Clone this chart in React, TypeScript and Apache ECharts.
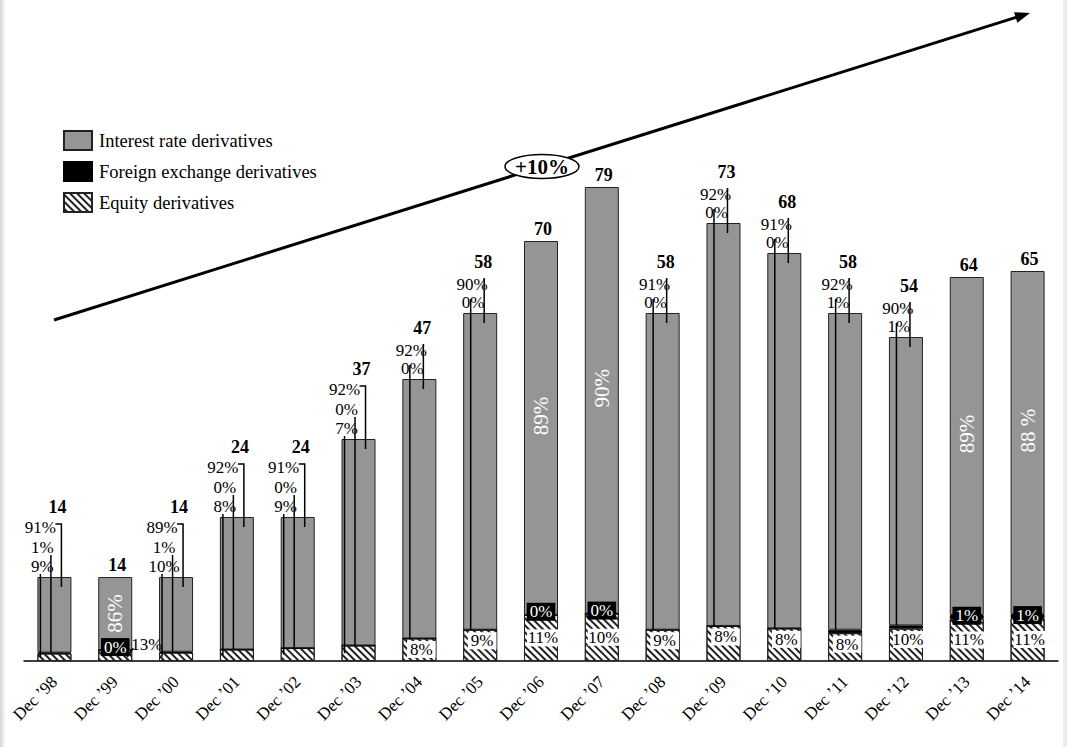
import React, { useEffect, useRef } from "react";
import * as echarts from "echarts";

// ---------- data ----------
const categories = [
  "Dec ’98", "Dec ’99", "Dec ’00", "Dec ’01", "Dec ’02", "Dec ’03", "Dec ’04", "Dec ’05", "Dec ’06",
  "Dec ’07", "Dec ’08", "Dec ’09", "Dec ’10", "Dec ’11", "Dec ’12", "Dec ’13", "Dec ’14",
];
const totals = [14, 14, 14, 24, 24, 37, 47, 58, 70, 79, 58, 73, 68, 58, 54, 64, 65];
const irPct = [91, 86, 89, 92, 91, 92, 92, 90, 89, 90, 91, 92, 91, 92, 90, 89, 88];
const fxPct = [1, 0, 1, 0, 0, 0, 0, 0, 0, 0, 0, 0, 0, 1, 1, 1, 1];
const eqPct = [9, 13, 10, 8, 9, 7, 8, 9, 11, 10, 9, 8, 8, 8, 10, 11, 11];
const irLabelOverride: Record<number, string> = { 16: "88 %" };

// how each column's labels are laid out (presentation only)
const labelModes = [
  "lead3", "inside", "lead3", "lead3", "lead3", "lead3", "lead2", "lead2", "inside",
  "inside", "lead2", "lead2", "lead2", "lead2", "lead2", "inside", "inside",
];

const eqVal = totals.map((t, i) => (t * eqPct[i]) / 100);
const fxVal = totals.map((t, i) => (t * fxPct[i]) / 100);
const irVal = totals.map((t, i) => t - eqVal[i] - fxVal[i]);

const SERIF = "Liberation Serif";
const BAR_W = 34;

function textW(s: string, size: number) {
  let w = 0;
  for (const ch of s) w += ch === "%" ? size * 0.83 : ch === " " ? size * 0.25 : size * 0.5;
  return w;
}

function renderItem(params: any, api: any) {
  const i = params.dataIndex;
  const [cx, yTop] = api.coord([i, totals[i]]);
  const [, yBase] = api.coord([i, 0]);
  const [, yEq] = api.coord([i, eqVal[i]]);
  const [, yFx] = api.coord([i, eqVal[i] + fxVal[i]]);
  const mode = labelModes[i];
  const children: any[] = [];
  const txt = (x: number, y: number, text: string, o: any = {}) => ({
    type: "text",
    z2: 20,
    style: {
      x,
      y,
      text,
      fill: o.fill || "#000",
      fontSize: o.size || 17,
      fontFamily: SERIF,
      fontWeight: o.bold ? "bold" : "normal",
      align: o.align || "center",
      verticalAlign: "middle",
    },
  });
  const poly = (pts: number[][]) => ({
    type: "polyline",
    z2: 15,
    shape: { points: pts },
    style: { stroke: "#000", lineWidth: 1.5, fill: null },
  });
  const box = (x: number, y: number, w: number, h: number, fill: string) => ({
    type: "rect",
    z2: 18,
    shape: { x: x - w / 2, y: y - h / 2, width: w, height: h },
    style: { fill },
  });
  const irText = irLabelOverride[i] || irPct[i] + "%";
  const fxText = fxPct[i] + "%";
  const eqText = eqPct[i] + "%";
  const eqMid = (yEq + yBase) / 2;

  if (mode === "lead3") {
    const yEqL = yTop - 11, yFxL = yTop - 30, yIrL = yTop - 50, yTot = yTop - 70;
    children.push(poly([[cx + 1, yIrL - 3], [cx + 7, yIrL - 3], [cx + 7, yTop + 10]]));
    children.push(poly([[cx - 3.5, yFxL + 8], [cx - 3.5, yFx]]));
    children.push(poly([[cx - 14, yEqL + 8], [cx - 14, eqMid]]));
    children.push(txt(cx - 14, yIrL, irText));
    children.push(txt(cx - 12, yFxL, fxText));
    children.push(txt(cx - 12, yEqL, eqText));
    children.push(txt(cx + 3, yTot, String(totals[i]), { bold: true, size: 18 }));
  } else if (mode === "lead2") {
    const yFxL = yTop - 11, yIrL = yTop - 29, yTot = yTop - 51;
    children.push(poly([[cx + 4, yIrL - 6], [cx + 4, yTop + 10]]));
    children.push(poly([[cx - 9.5, yFxL - 3], [cx - 9.5, yFx]]));
    children.push(txt(cx - 8, yIrL, irText));
    children.push(txt(cx - 7, yFxL, fxText));
    children.push(txt(cx + 3, yTot, String(totals[i]), { bold: true, size: 18 }));
    const ey = Math.min(eqMid, yEq + 11);
    children.push(box(cx + 2, ey, Math.min(textW(eqText, 17) + 6, BAR_W - 4), 17, "#fff"));
    children.push(txt(cx + 2, ey, eqText));
  } else {
    const yTot = yTop - 12;
    children.push(txt(cx + 2, yTot, String(totals[i]), { bold: true, size: 18 }));
    const irMid = (yTop + yFx) / 2 - (yFx - yTop > 200 ? 12 : 0);
    children.push({
      type: "text",
      z2: 20,
      x: cx,
      y: irMid,
      rotation: Math.PI / 2,
      style: {
        x: 0,
        y: 0,
        text: irText,
        fill: "#fff",
        fontSize: 21,
        fontFamily: SERIF,
        align: "center",
        verticalAlign: "middle",
      },
    });
    const fxBoxY = yEq - 3;
    children.push(box(cx, fxBoxY, textW(fxText, 17) + 6, 18, "#000"));
    children.push(txt(cx, fxBoxY, fxText, { fill: "#fff" }));
    if (yBase - yEq < 20) {
      // small bar: equity label outside with a short leader
      children.push(poly([[cx + 12, yBase - 4], [cx + 18, yEq - 2]]));
      children.push(txt(cx + 16, yEq - 6, eqText, { align: "left" }));
    } else {
      children.push(box(cx + 2, eqMid, Math.min(textW(eqText, 17) + 6, BAR_W - 2), 17, "#fff"));
      children.push(txt(cx + 2, eqMid, eqText));
    }
  }
  return { type: "group", children };
}

// arrow annotation
const A0 = [54, 320];
const A1 = [1030, 13];
function arrowGraphics() {
  const dx = A1[0] - A0[0], dy = A1[1] - A0[1];
  const L = Math.hypot(dx, dy);
  const ux = dx / L, uy = dy / L;
  const nx = -uy, ny = ux;
  const hl = 15, hw = 5.5;
  const bx = A1[0] - ux * hl, by = A1[1] - uy * hl;
  const t = (542 - A0[0]) / dx;
  const ex = 542, ey = A0[1] + dy * t;
  return [
    {
      type: "line",
      shape: { x1: A0[0], y1: A0[1], x2: bx + ux * 2, y2: by + uy * 2 },
      style: { stroke: "#000", lineWidth: 3 },
      z: 50,
    },
    {
      type: "polygon",
      shape: { points: [[A1[0], A1[1]], [bx + nx * hw, by + ny * hw], [bx - nx * hw, by - ny * hw]] },
      style: { fill: "#000" },
      z: 50,
    },
    {
      type: "ellipse",
      shape: { cx: ex, cy: ey, rx: 37, ry: 12 },
      style: { fill: "#fff", stroke: "#000", lineWidth: 1.5 },
      z: 51,
    },
    {
      type: "text",
      x: ex,
      y: ey,
      style: {
        text: "+10%",
        fill: "#000",
        fontSize: 21,
        fontWeight: "bold",
        fontFamily: SERIF,
        align: "center",
        verticalAlign: "middle",
      },
      z: 52,
    },
    {
      type: "rect",
      shape: { x: 0, y: 0, width: 6, height: 747 },
      style: {
        fill: new echarts.graphic.LinearGradient(0, 0, 1, 0, [
          { offset: 0, color: "#d4d4d4" },
          { offset: 1, color: "#ffffff" },
        ]),
      },
      z: 1,
    },
    {
      type: "rect",
      shape: { x: 1063, y: 0, width: 4, height: 747 },
      style: { fill: "#ececec" },
      z: 1,
    },
  ];
}

export default function App() {
  const ref = useRef<HTMLDivElement>(null);
  useEffect(() => {
    if (!ref.current) return;
    const chart = echarts.init(ref.current, undefined, { renderer: "svg" });
    chart.setOption({
      animation: false,
      backgroundColor: "#fff",
      grid: { left: 24, right: 9, top: 181, bottom: 86, containLabel: false },
      legend: {
        orient: "vertical",
        left: 63,
        top: 130,
        padding: 0,
        itemWidth: 28,
        itemHeight: 19,
        itemGap: 10,
        icon: "rect",
        selectedMode: false,
        data: ["Interest rate derivatives", "Foreign exchange derivatives", "Equity derivatives"],
        textStyle: { fontFamily: SERIF, fontSize: 18.5, color: "#000", padding: [0, 0, 0, 2] },
      },
      xAxis: {
        type: "category",
        data: categories,
        axisLine: { lineStyle: { color: "#000", width: 1.5 } },
        axisTick: { show: false },
        axisLabel: {
          rotate: 45,
          interval: 0,
          fontFamily: SERIF,
          fontSize: 17,
          color: "#000",
          margin: 18,
        },
      },
      yAxis: { type: "value", min: 0, max: 80, show: false, splitLine: { show: false } },
      series: [
        {
          name: "Equity derivatives",
          type: "bar",
          stack: "t",
          barWidth: BAR_W,
          data: eqVal,
          itemStyle: {
            color: "#fff",
            borderColor: "#222",
            borderWidth: 1,
            decal: {
              symbol: "rect",
              symbolSize: 1,
              dashArrayX: [[1, 0]],
              dashArrayY: [1.6, 2.6],
              rotation: Math.PI / 4,
              color: "#222",
              backgroundColor: "#fff",
            },
          },
        },
        {
          name: "Foreign exchange derivatives",
          type: "bar",
          stack: "t",
          barWidth: BAR_W,
          data: fxVal,
          itemStyle: { color: "#000", borderColor: "#000", borderWidth: 1 },
        },
        {
          name: "Interest rate derivatives",
          type: "bar",
          stack: "t",
          barWidth: BAR_W,
          data: irVal,
          itemStyle: { color: "#959595", borderColor: "#222", borderWidth: 1 },
        },
        {
          type: "custom",
          renderItem,
          silent: true,
          z: 10,
          encode: { x: 0, y: 1 },
          data: totals.map((t, i) => [i, t]),
        },
      ],
      graphic: arrowGraphics(),
    });
    return () => chart.dispose();
  }, []);
  return (
    <div
      ref={ref}
      style={{ position: "fixed", left: 0, top: 0, width: 1067, height: 747, background: "#fff" }}
    />
  );
}
